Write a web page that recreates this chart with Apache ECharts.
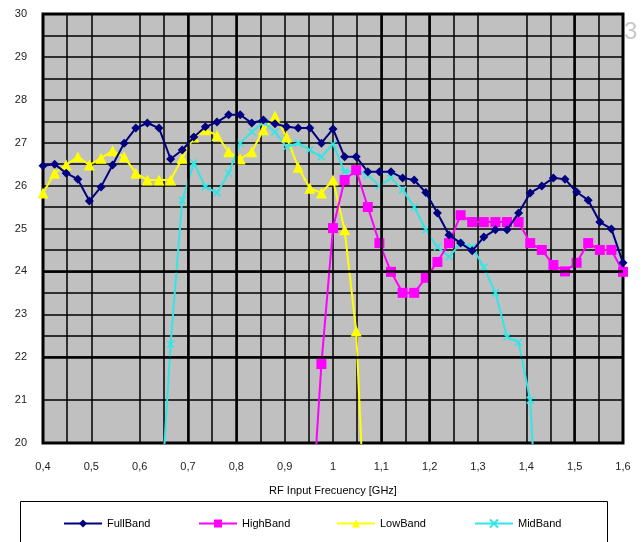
<!DOCTYPE html>
<html>
<head>
<meta charset="utf-8">
<script src="https://cdn.jsdelivr.net/npm/echarts@6/dist/echarts.min.js"></script>
<style>
  html, body { margin: 0; padding: 0; background: #fff; }
  #main { width: 641px; height: 542px; }
</style>
</head>
<body>
<div id="main"></div>
<script>
// frequency points (GHz)
const freq = [0.4, 0.424, 0.448, 0.472, 0.496, 0.52, 0.544, 0.568, 0.592, 0.616,
  0.64, 0.664, 0.688, 0.712, 0.736, 0.76, 0.784, 0.808, 0.832, 0.856,
  0.88, 0.904, 0.928, 0.952, 0.976, 1.0, 1.024, 1.048, 1.072, 1.096,
  1.12, 1.144, 1.168, 1.192, 1.216, 1.24, 1.264, 1.288, 1.312, 1.336,
  1.36, 1.384, 1.408, 1.432, 1.456, 1.48, 1.504, 1.528, 1.552, 1.576, 1.6];

const fullBand = [26.46, 26.5, 26.29, 26.15, 25.64, 25.97, 26.48, 26.99, 27.34, 27.46,
  27.34, 26.62, 26.83, 27.13, 27.37, 27.48, 27.65, 27.65, 27.46, 27.53,
  27.44, 27.37, 27.34, 27.34, 26.99, 27.32, 26.67, 26.67, 26.32, 26.32,
  26.32, 26.18, 26.13, 25.84, 25.36, 24.85, 24.66, 24.48, 24.8, 24.97,
  24.97, 25.36, 25.83, 25.99, 26.18, 26.15, 25.85, 25.66, 25.15, 24.99, 24.2];

const highBand = [null, null, null, null, null, null, null, null, null, null,
  null, null, null, null, null, null, null, null, null, null,
  null, null, null, 17.6, 21.84, 25.01, 26.13, 26.36, 25.5, 24.66,
  23.99, 23.5, 23.5, 23.85, 24.22, 24.66, 25.31, 25.15, 25.15, 25.15,
  25.15, 25.15, 24.66, 24.5, 24.15, 24.0, 24.2, 24.66, 24.5, 24.5, 23.99];

const lowBand = [25.83, 26.29, 26.48, 26.67, 26.48, 26.64, 26.81, 26.67, 26.29, 26.13,
  26.13, 26.13, 26.64, 27.13, 27.3, 27.17, 26.79, 26.62, 26.79, 27.3,
  27.62, 27.13, 26.43, 25.94, 25.83, 26.13, 24.97, 22.61, 16.6];

const midBand = [null, null, null, null, null, null, null, null, null, null,
  17.9, 22.3, 25.66, 26.53, 25.97, 25.83, 26.29, 26.99, 27.25, 27.48,
  27.25, 26.9, 26.99, 26.83, 26.67, 26.97, 26.32, 26.34, 26.25, 25.99,
  26.18, 25.9, 25.5, 24.97, 24.57, 24.34, 24.66, 24.57, 24.1, 23.5,
  22.47, 22.35, 21.0, 16];

const seriesNames = ['FullBand', 'HighBand', 'LowBand', 'MidBand'];
const xTitle = 'RF Input Frecuency [GHz]';

function pairs(vals) {
  const out = [];
  vals.forEach((v, i) => { if (v !== null) out.push([freq[i], v]); });
  return out;
}

// grid lines that are missing in the original picture
const xLineColors = [];
for (let i = 0; i <= 24; i++) xLineColors.push(i === 3 || i === 19 ? 'rgba(0,0,0,0)' : '#000');
const yLineColors = [];
for (let i = 0; i <= 20; i++) yLineColors.push(i === 1 || i === 3 ? 'rgba(0,0,0,0)' : '#000');

const fontFamily = '"Liberation Sans", Arial, sans-serif';

// one legend per item so the spacing follows the original box
const legendLeft = [58, 193, 331, 469];
const legends = seriesNames.map((n, i) => ({
  data: [n],
  left: legendLeft[i],
  top: 513,
  itemWidth: 38,
  itemHeight: 10,
  itemGap: 0,
  textStyle: { fontSize: 11, color: '#000', fontFamily: fontFamily }
}));

const chart = echarts.init(document.getElementById('main'));

chart.setOption({
  animation: false,
  textStyle: { fontFamily: fontFamily },
  grid: {
    left: 43, right: 18, top: 14, bottom: 99,
    show: true,
    backgroundColor: '#c0c0c0',
    borderColor: '#000',
    borderWidth: 3
  },
  legend: legends,
  xAxis: {
    type: 'value',
    min: 0.4, max: 1.6, interval: 0.05,
    name: xTitle,
    nameLocation: 'middle',
    nameGap: 42,
    nameTextStyle: { fontSize: 11, color: '#000' },
    axisLine: { show: false },
    axisTick: { show: false },
    axisLabel: {
      margin: 18, fontSize: 11, color: '#222',
      formatter: function (v) {
        const r = Math.round(v * 100);
        if (r % 10 !== 0) return '';
        return String(r / 100).replace('.', ',');
      }
    },
    splitLine: { show: true, lineStyle: { color: xLineColors, width: 1.5 } }
  },
  yAxis: {
    type: 'value',
    min: 20, max: 30, interval: 0.5,
    axisLine: { show: false },
    axisTick: { show: false },
    axisLabel: {
      margin: 16, fontSize: 11, color: '#222',
      formatter: function (v) { return v % 1 === 0 ? String(v) : ''; }
    },
    splitLine: { show: true, lineStyle: { color: yLineColors, width: 1.5 } }
  },
  graphic: [
    {
      type: 'rect', left: 20, top: 501, z: -1,
      shape: { width: 587, height: 60 },
      style: { fill: '#fff', stroke: '#000', lineWidth: 1 }
    },
    {
      type: 'text', left: 624, top: 20,
      style: { text: '3', fontSize: 24, fill: '#c8c8c8', fontFamily: fontFamily }
    }
  ],
  series: [
    {
      name: 'grid-heavy', type: 'line', data: [], silent: true, z: 1,
      markLine: {
        silent: true, symbol: 'none', label: { show: false },
        lineStyle: { color: '#000', width: 2.5, type: 'solid' },
        data: [
          { xAxis: 0.7 }, { xAxis: 0.8 }, { xAxis: 1.1 }, { xAxis: 1.2 }, { xAxis: 1.5 },
          { yAxis: 24 }, { yAxis: 22 }
        ]
      }
    },
    {
      name: 'FullBand', type: 'line', z: 5,
      data: pairs(fullBand),
      symbol: 'diamond', symbolSize: 9,
      lineStyle: { color: '#000080', width: 2 },
      itemStyle: { color: '#000080' }
    },
    {
      name: 'HighBand', type: 'line', z: 4,
      data: pairs(highBand),
      symbol: 'rect', symbolSize: 10,
      lineStyle: { color: '#ff00ff', width: 2 },
      itemStyle: { color: '#ff00ff' }
    },
    {
      name: 'LowBand', type: 'line', z: 3,
      data: pairs(lowBand),
      symbol: 'triangle', symbolSize: 11,
      lineStyle: { color: '#ffff00', width: 2 },
      itemStyle: { color: '#ffff00' }
    },
    {
      name: 'MidBand', type: 'line', z: 3,
      data: pairs(midBand),
      symbol: 'path://M0,0L10,10M10,0L0,10', symbolSize: 7,
      lineStyle: { color: '#33e6e6', width: 2 },
      itemStyle: { color: '#33e6e6', borderColor: '#33e6e6', borderWidth: 1.5 }
    }
  ]
});
</script>
</body>
</html>
